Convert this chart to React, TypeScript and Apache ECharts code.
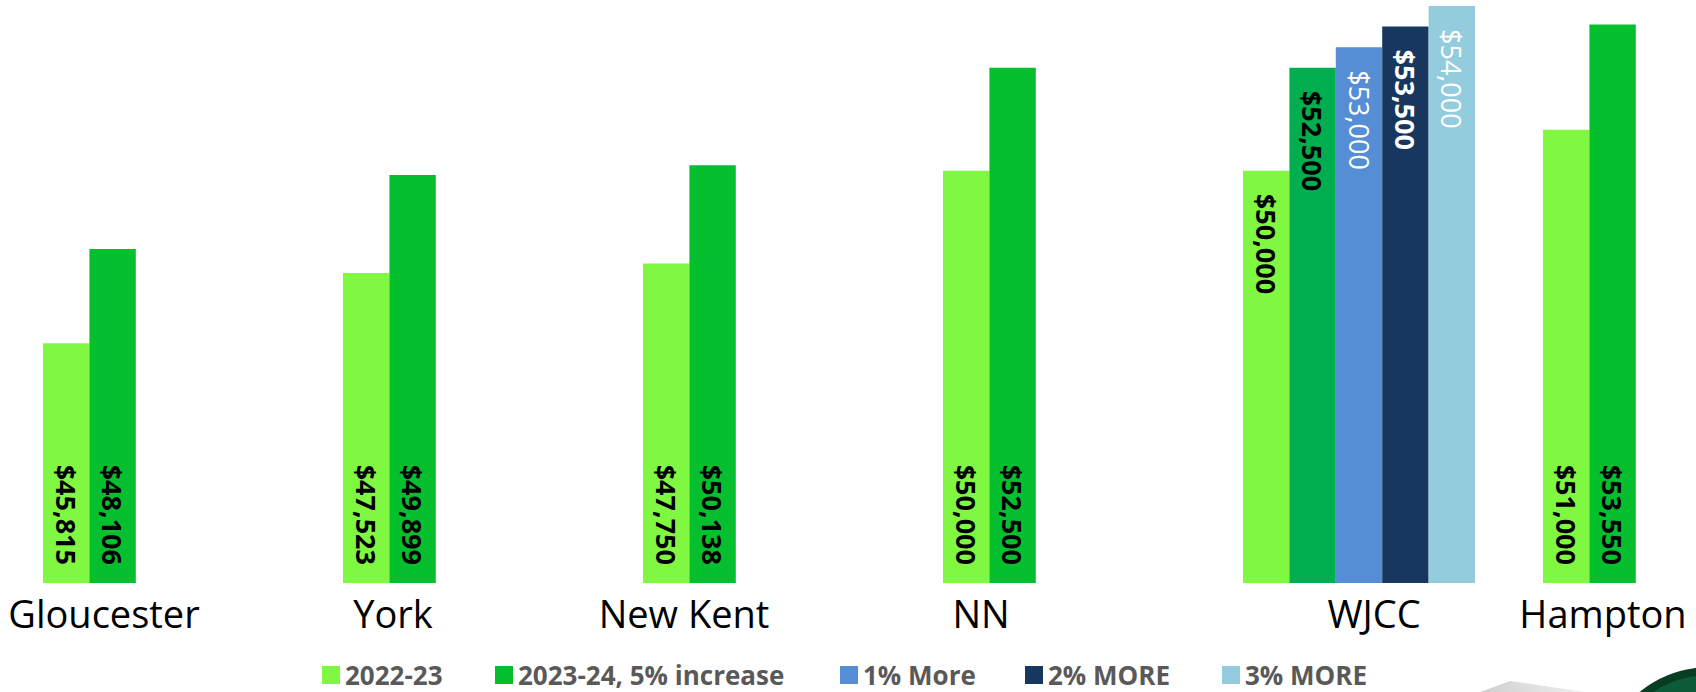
import { useEffect, useRef } from "react";
import * as echarts from "echarts";

const categories = ["Gloucester", "York", "New Kent", "NN", "WJCC", "Hampton"];
const seriesNames = ["2022-23", "2023-24, 5% increase", "1% More", "2% MORE", "3% MORE"];
const salary2022 = [45815, 47523, 47750, 50000, 50000, 51000];
const salary2023 = [48106, 49899, 50138, 52500, 52500, 53550];
const onePctMore = [null, null, null, null, 53000, null];
const twoPctMore = [null, null, null, null, 53500, null];
const threePctMore = [null, null, null, null, 54000, null];

const seriesColors = ["#80F740", "#05BF2F", "#558ED5", "#17375E", "#93CDDD"];
const wjccGreen = "#00AE4F";
const WJCC_INDEX = 4;
const FONT = "'Open Sans', 'Noto Sans', sans-serif";

const fmt = (p: any) => "$" + Number(p.value).toLocaleString("en-US");

const bottomLabel = {
  show: true,
  rotate: -90,
  position: "insideBottom",
  distance: 18,
  align: "right",
  verticalAlign: "middle",
  fontFamily: FONT,
  fontSize: 27,
  fontWeight: "bold",
  color: "#000",
  formatter: fmt,
};

const topLabel = (color: string, weight: string) => ({
  show: true,
  rotate: -90,
  position: "insideTop",
  distance: 23,
  align: "left",
  verticalAlign: "middle",
  fontFamily: FONT,
  fontSize: 27,
  fontWeight: weight,
  color,
  formatter: fmt,
});

const labelShifts = [110, 132, 150, 156, -30, 112];

export default function App() {
  const ref = useRef<HTMLDivElement>(null);
  useEffect(() => {
    if (!ref.current) return;
    const chart = echarts.init(ref.current, null, { renderer: "svg" });

    const buildMain = (vals: number[], idx: number) =>
      vals.map((v, i) =>
        i === WJCC_INDEX
          ? {
              value: v,
              itemStyle: idx === 1 ? { color: wjccGreen } : undefined,
              label: topLabel("#000", "bold"),
            }
          : v
      );

    const rich: Record<string, any> = {};
    labelShifts.forEach((s, i) => {
      rich["c" + i] = {
        fontFamily: FONT,
        fontSize: 38,
        lineHeight: 40,
        color: "#000",
        padding: s >= 0 ? [0, s, 0, 0] : [0, 0, 0, -s],
      };
    });

    const legendLefts = [322, 495, 840, 1025, 1222];

    const option: any = {
      animation: false,
      grid: { left: 9, top: 6, width: 1800, height: 577, outerBoundsMode: "none", containLabel: false },
      xAxis: {
        type: "category",
        data: categories,
        axisLine: { show: false },
        axisTick: { show: false },
        axisLabel: {
          interval: 0,
          margin: 10,
          fontFamily: FONT,
          fontSize: 38,
          color: "#000",
          formatter: (v: string, i: number) => `{c${i}|${v}}`,
          rich,
        },
      },
      yAxis: { type: "value", min: 40000, max: 54000, show: false, splitLine: { show: false } },
      legend: seriesNames.map((n, i) => ({
        data: [n],
        left: legendLefts[i],
        top: 662,
        padding: 0,
        itemWidth: 18,
        itemHeight: 18,
        itemGap: 0,
        icon: "rect",
        textStyle: { fontFamily: FONT, fontSize: 26, lineHeight: 22, fontWeight: "bold", color: "#595959" },
      })),
      series: [
        {
          name: seriesNames[0],
          type: "bar",
          data: buildMain(salary2022, 0),
          itemStyle: { color: seriesColors[0] },
          label: bottomLabel,
        },
        {
          name: seriesNames[1],
          type: "bar",
          data: buildMain(salary2023, 1),
          itemStyle: { color: seriesColors[1] },
          label: bottomLabel,
        },
        {
          name: seriesNames[2],
          type: "bar",
          data: onePctMore,
          itemStyle: { color: seriesColors[2] },
          label: topLabel("#fff", "normal"),
        },
        {
          name: seriesNames[3],
          type: "bar",
          data: twoPctMore,
          itemStyle: { color: seriesColors[3] },
          label: topLabel("#fff", "bold"),
        },
        {
          name: seriesNames[4],
          type: "bar",
          data: threePctMore,
          itemStyle: { color: seriesColors[4] },
          label: topLabel("#fff", "normal"),
        },
      ].map((s) => ({ ...s, barWidth: 46.4, barGap: "0%" })),
      graphic: [
        {
          type: "polygon",
          z: -1,
          shape: { points: [[1480, 692], [1510, 681], [1585, 692]] },
          style: {
            fill: new echarts.graphic.LinearGradient(0, 0, 1, 0, [
              { offset: 0, color: "#CFCFCF" },
              { offset: 1, color: "#EFEFEF" },
            ]),
          },
        },
        { type: "circle", z: -1, shape: { cx: 1710, cy: 779, r: 112 }, style: { fill: "#073D22" } },
        { type: "circle", z: -1, shape: { cx: 1710, cy: 779, r: 104 }, style: { fill: "#0E5C37" } },
      ],
    };
    chart.setOption(option);
    return () => chart.dispose();
  }, []);
  return (
    <div
      ref={ref}
      style={{ position: "fixed", left: 0, top: 0, width: 1696, height: 692, background: "#fff" }}
    />
  );
}
